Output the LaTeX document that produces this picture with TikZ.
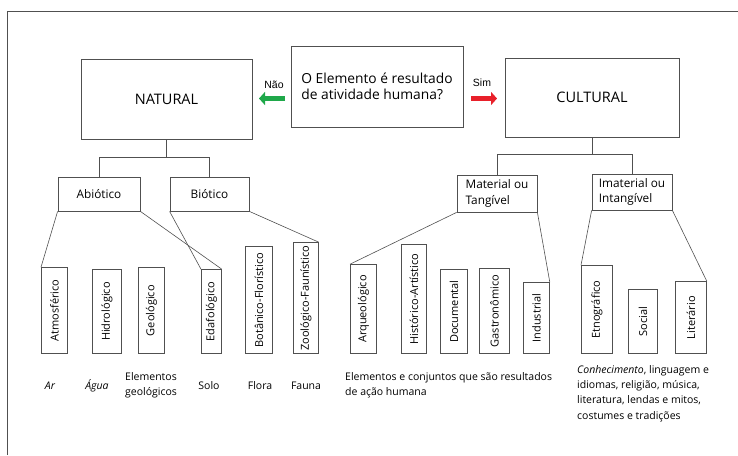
\documentclass[tikz,border=0pt]{standalone}
\usepackage{fontspec}
\setmainfont{Open Sans}
\newfontfamily\answerfont{Liberation Sans}
\usepackage{graphicx}
\usetikzlibrary{arrows.meta, positioning, calc}

\definecolor{linegray}{HTML}{505050}
\definecolor{naogreen}{HTML}{1FA84A}
\definecolor{simred}{HTML}{E8202A}

\tikzset{
    bigbox/.style={draw=linegray, line width=0.8pt, inner sep=0pt, font=\fontsize{13.8}{16.5}\selectfont},
    midbox/.style={draw=linegray, line width=0.8pt, inner sep=0pt, align=left, font=\fontsize{11.8}{15.5}\selectfont},
    leafbox/.style={draw=linegray, line width=0.8pt, inner sep=0pt, anchor=south west, font=\fontsize{11}{12}\selectfont},
    leaflabel/.style={align=center, font=\fontsize{10.5}{15}\selectfont},
    answer/.style={font=\answerfont\fontsize{10.5}{12}\selectfont},
    link/.style={draw=linegray, line width=0.6pt},
    fatarrow/.style={line width=5pt, -{Triangle[length=6pt,width=13pt]}}
}

\begin{document}
\begin{tikzpicture}[x=1pt, y=-1pt]
    \useasboundingbox (0,0) rectangle (738,455);

    % Frame
    \draw[linegray, line width=0.8pt] (7.5,455) -- (7.5,11.5) -- (738,11.5);

    % Question and the two answers
    \node[bigbox, minimum width=172, minimum height=81, align=left] (quest) at (377,86.5)
        {O Elemento é resultado\\de atividade humana?};
    \node[bigbox, minimum width=171, minimum height=80, font=\fontsize{14.5}{17}\selectfont] (natural) at (166.5,99) {NATURAL};
    \node[bigbox, minimum width=174, minimum height=79, font=\fontsize{14.5}{17}\selectfont] (cultural) at (592,97.5) {CULTURAL};

    \coordinate (naofrom) at (285,98.5);
    \coordinate (naoto) at (259,98.5);
    \draw[fatarrow, naogreen] (naofrom) -- (naoto);
    \node[answer] (nao) at (274,85) {Não};

    \coordinate (simfrom) at (471,98.5);
    \coordinate (simto) at (497,98.5);
    \draw[fatarrow, simred] (simfrom) -- (simto);
    \node[answer] (sim) at (482,83) {Sim};

    % Natural branch
    \node[midbox, minimum width=82, minimum height=34] (abio) at (99,194) {Abiótico};
    \node[midbox, minimum width=79, minimum height=34] (bio) at (209.5,194) {Biótico};
    \draw[link] (natural.south) -- ++(0,18) coordinate (natjoin);
    \draw[link] (abio.north) |- (natjoin) -| (bio.north);

    % Cultural branch
    \node[midbox, minimum width=80, minimum height=37] (mat) at (497,193.5) {Material ou\\Tangível};
    \node[midbox, minimum width=80, minimum height=36] (imat) at (632,192) {Imaterial ou\\Intangível};
    \draw[link] (cultural.south) -- ++(0,17) coordinate (culjoin);
    \draw[link] (mat.north) |- (culjoin) -| (imat.north);

    % Leaves
    \node[leafbox, minimum width=26, minimum height=86] (atm) at (41,354) {\rotatebox{90}{Atmosférico}};
    \node[leafbox, minimum width=29, minimum height=84] (hid) at (92,354) {\rotatebox{90}{Hidrológico}};
    \node[leafbox, minimum width=26, minimum height=86] (geo) at (138,354) {\rotatebox{90}{Geológico}};
    \node[leafbox, minimum width=20, minimum height=84] (eda) at (201,354) {\rotatebox{90}{Edafológico}};
    \node[leafbox, minimum width=27, minimum height=107] (bot) at (245,354) {\rotatebox{90}{Botânico-Florístico}};
    \node[leafbox, minimum width=25, minimum height=111] (zoo) at (293,354) {\rotatebox{90}{Zoológico-Faunístico}};
    \node[leafbox, minimum width=26, minimum height=89] (arq) at (350,354) {\rotatebox{90}{Arqueológico}};
    \node[leafbox, minimum width=25, minimum height=109] (his) at (401,354) {\rotatebox{90}{Histórico-Artístico}};
    \node[leafbox, minimum width=27, minimum height=84] (doc) at (440,354) {\rotatebox{90}{Documental}};
    \node[leafbox, minimum width=30, minimum height=85] (gas) at (479,354) {\rotatebox{90}{Gastronômico}};
    \node[leafbox, minimum width=26, minimum height=71] (ind) at (523,354) {\rotatebox{90}{Industrial}};
    \node[leafbox, minimum width=31, minimum height=88] (etn) at (581,354) {\rotatebox{90}{Etnográfico}};
    \node[leafbox, minimum width=29, minimum height=64] (soc) at (628,354) {\rotatebox{90}{Social}};
    \node[leafbox, minimum width=31, minimum height=72] (lit) at (675,354) {\rotatebox{90}{Literário}};

    % Links to the leaves
    \draw[link] (abio.south west) -- (atm.north west);
    \draw[link] (abio.south east) -- (eda.north east);
    \draw[link] (bio.south west) -- (eda.north west);
    \draw[link] (bio.south east) -- (zoo.north east);
    \draw[link] (mat.south west) -- (arq.north west);
    \draw[link] (mat.south east) -- (ind.north east);
    \draw[link] (imat.south west) -- (etn.north west);
    \draw[link] (imat.south east) -- (lit.north east);

    % Examples
    \node[leaflabel] (ar) at (50,386) {\itshape Ar};
    \node[leaflabel] (agua) at (97,386) {\itshape Água};
    \node[leaflabel] (elgeo) at (151,385) {Elementos\\geológicos};
    \node[leaflabel] (solo) at (209,386) {Solo};
    \node[leaflabel] (flora) at (260,386) {Flora};
    \node[leaflabel] (fauna) at (306,386) {Fauna};
    \node[leaflabel, anchor=west, align=left, inner sep=0pt] (matex) at (345,385.5)
        {Elementos e conjuntos que são resultados\\de ação humana};
    \node[leaflabel, anchor=north west, align=left, inner sep=0pt, font=\fontsize{10.5}{15.3}\selectfont] (imatex) at (577,365)
        {\textit{Conhecimento}, linguagem e\\idiomas, religião, música,\\literatura, lendas e mitos,\\costumes e tradições};
\end{tikzpicture}
\end{document}
